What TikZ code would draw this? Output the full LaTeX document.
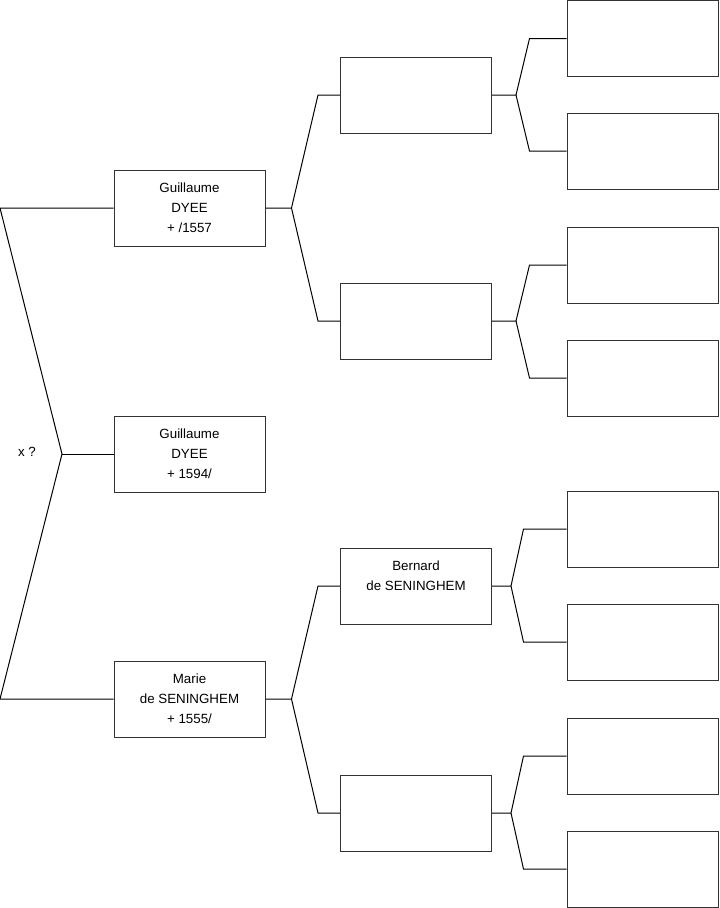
\documentclass[tikz,border=0pt]{standalone}
\usepackage{fontspec}
\setmainfont{Liberation Sans}
\usetikzlibrary{positioning, calc}
\definecolor{lineA}{HTML}{333333}
\tikzset{
  person/.style={
    draw=lineA, line width=0.75pt, inner sep=0pt,
    minimum width=113.25pt, minimum height=57pt,
    align=center, font=\fontsize{10}{15}\selectfont
  },
  link/.style={draw=black, line width=0.75pt},
  tag/.style={font=\fontsize{10}{15}\selectfont, inner sep=0pt}
}

\begin{document}
\begin{tikzpicture}[x=0.75pt, y=-0.75pt]
  \useasboundingbox (0,0) rectangle (719,908);
  % generation 1
  \node[person] (g1) at (189.5,208) {Guillaume\\DYEE\\+ /1557};
  \node[person] (g2) at (189.5,454) {Guillaume\\DYEE\\+ 1594/};
  \node[person] (m1) at (189.5,699) {Marie\\de SENINGHEM\\+ 1555/};
  \node[tag] (xq) at (27,452) {x ?};
  % generation 2
  \node[person] (g1f) at (416,95) {};
  \node[person] (g1m) at (416,321) {};
  \node[person] (m1f) at (416,586) {Bernard\\de SENINGHEM\\~};
  \node[person] (m1m) at (416,813) {};
  % generation 3
  \node[person] (g1ff) at (642.5,38.5) {};
  \node[person] (g1fm) at (642.5,151) {};
  \node[person] (g1mf) at (642.5,265) {};
  \node[person] (g1mm) at (642.5,378) {};
  \node[person] (m1ff) at (642.5,529) {};
  \node[person] (m1fm) at (642.5,642) {};
  \node[person] (m1mf) at (642.5,756) {};
  \node[person] (m1mm) at (642.5,869) {};
  % brackets
  \coordinate (rtop) at (0,208);
  \coordinate (rmid) at (62,454);
  \coordinate (rbot) at (0,699);
  \draw[link] (g1.west) -- (rtop) -- (rmid) -- (rbot) -- (m1.west);
  \draw[link] (rmid) -- (g2.west);

  \coordinate (jg1) at ($(g1.east)+(26,0)$);
  \draw[link] (g1.east) -- (jg1) -- ($(g1f.west)+(-22,0)$) -- (g1f.west);
  \draw[link] (jg1) -- ($(g1m.west)+(-22,0)$) -- (g1m.west);
  \coordinate (jm1) at ($(m1.east)+(26,0)$);
  \draw[link] (m1.east) -- (jm1) -- ($(m1f.west)+(-22,0)$) -- (m1f.west);
  \draw[link] (jm1) -- ($(m1m.west)+(-22,0)$) -- (m1m.west);

  \coordinate (jg1f) at ($(g1f.east)+(24,0)$);
  \draw[link] (g1f.east) -- (jg1f) -- ($(g1ff.west)+(-37,0)$) -- (g1ff.west);
  \draw[link] (jg1f) -- ($(g1fm.west)+(-37,0)$) -- (g1fm.west);
  \coordinate (jg1m) at ($(g1m.east)+(24,0)$);
  \draw[link] (g1m.east) -- (jg1m) -- ($(g1mf.west)+(-37,0)$) -- (g1mf.west);
  \draw[link] (jg1m) -- ($(g1mm.west)+(-37,0)$) -- (g1mm.west);
  \coordinate (jm1f) at ($(m1f.east)+(19,0)$);
  \draw[link] (m1f.east) -- (jm1f) -- ($(m1ff.west)+(-43,0)$) -- (m1ff.west);
  \draw[link] (jm1f) -- ($(m1fm.west)+(-43,0)$) -- (m1fm.west);
  \coordinate (jm1m) at ($(m1m.east)+(19,0)$);
  \draw[link] (m1m.east) -- (jm1m) -- ($(m1mf.west)+(-43,0)$) -- (m1mf.west);
  \draw[link] (jm1m) -- ($(m1mm.west)+(-43,0)$) -- (m1mm.west);
\end{tikzpicture}
\end{document}
